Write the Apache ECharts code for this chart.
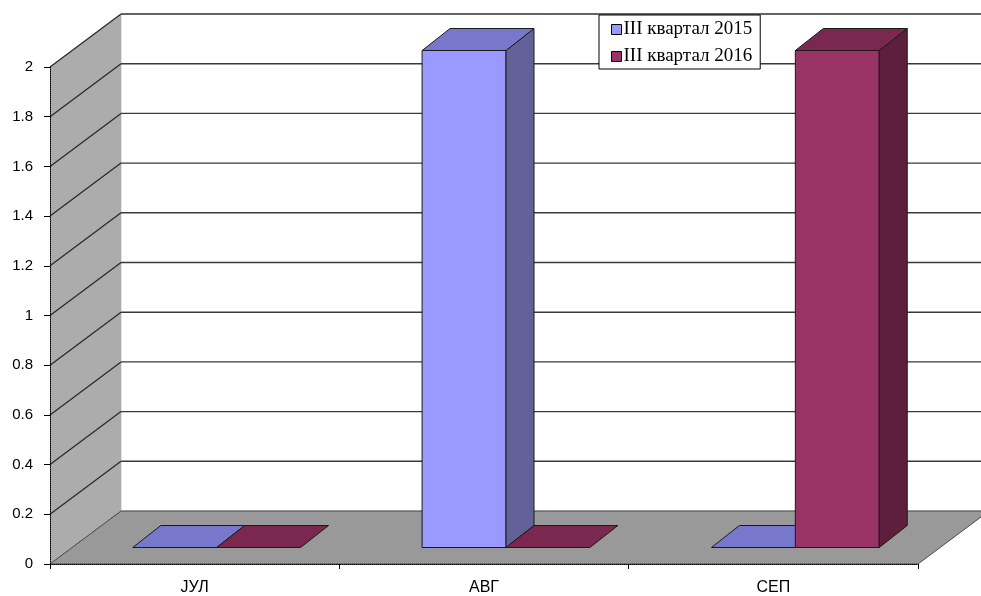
<!DOCTYPE html>
<html>
<head>
<meta charset="utf-8">
<script src="https://cdn.jsdelivr.net/npm/echarts@6/dist/echarts.min.js"></script>
<style>
  html, body { margin: 0; padding: 0; background: #fff; }
  #chart { width: 981px; height: 596px; }
</style>
</head>
<body>
<div id="chart"></div>
<script>
// Monthly values, third quarter
const categories = ['ЈУЛ', 'АВГ', 'СЕП'];
const seriesNames = ['III квартал 2015', 'III квартал 2016'];
const q3_2015 = [0, 2, 0];
const q3_2016 = [0, 0, 2];
const yTicks = [0, 0.2, 0.4, 0.6, 0.8, 1, 1.2, 1.4, 1.6, 1.8, 2];

// Oblique projection: how far the back of the plot box is shifted (px)
const DEPTH = [71, -53];
// Bars: front face inset into the box, and the bar's own depth (px)
const BAR_FRONT = [22, -16.5];
const BAR_DEPTH = [28, -22];
const BAR_FRAC = 0.29;

const palette = {
  s2015: { front: '#9999ff', top: '#7777cc', side: '#626299' },
  s2016: { front: '#993366', top: '#7a2850', side: '#5e1f3e' }
};

const chart = echarts.init(document.getElementById('chart'), null, { renderer: 'canvas' });

// Walls, floor and gridlines of the 3D box
function boxSeries() {
  return {
    type: 'custom',
    name: 'box',
    silent: true,
    data: [[0, 0]],
    encode: { x: 0, y: 1 },
    renderItem(params, api) {
      const cs = params.coordSys;
      const x0 = cs.x, x1 = cs.x + cs.width;
      const [dx, dy] = DEPTH;
      const yMin = yTicks[0], yMax = yTicks[yTicks.length - 1];
      const y0 = api.coord([0, yMin])[1];
      const y2 = api.coord([0, yMax])[1];
      const children = [];
      // back wall
      children.push({
        type: 'polygon',
        shape: { points: [[x0 + dx, y0 + dy], [x1 + dx, y0 + dy], [x1 + dx, y2 + dy], [x0 + dx, y2 + dy]] },
        style: { fill: '#ffffff', stroke: '#c8c8c8', lineWidth: 1 }
      });
      // left wall
      children.push({
        type: 'polygon',
        shape: { points: [[x0, y0], [x0, y2], [x0 + dx, y2 + dy], [x0 + dx, y0 + dy]] },
        style: { fill: '#acacac', stroke: null }
      });
      // floor
      children.push({
        type: 'polygon',
        shape: { points: [[x0, y0], [x1, y0], [x1 + dx, y0 + dy], [x0 + dx, y0 + dy]] },
        style: { fill: '#999999', stroke: '#4a4a4a', lineWidth: 1 }
      });
      // gridlines: diagonal on the left wall, horizontal on the back wall
      yTicks.forEach(function (v) {
        const y = api.coord([0, v])[1];
        const dashed = v === yMin;
        children.push({
          type: 'line',
          shape: { x1: x0, y1: y, x2: x0 + dx, y2: y + dy },
          style: { stroke: dashed ? '#5a5a5a' : '#2a2a2a', lineWidth: dashed ? 1 : 1.3, lineDash: dashed ? [2, 2] : null }
        });
        if (v !== yMin) {
          children.push({
            type: 'line',
            shape: { x1: x0 + dx, y1: y + dy, x2: x1 + dx, y2: y + dy },
            style: { stroke: '#3a3a3a', lineWidth: 1.4 }
          });
        }
      });
      return { type: 'group', children: children };
    }
  };
}

// One 3D column series; side = -1 puts the bar left of the category centre
function barSeries(name, values, side, colors) {
  return {
    type: 'custom',
    name: name,
    itemStyle: { color: colors.front },
    data: values.map(function (v, i) { return [i, v]; }),
    encode: { x: 0, y: 1 },
    renderItem(params, api) {
      const i = api.value(0), v = api.value(1);
      const base = api.coord([i, 0]);
      const top = api.coord([i, v]);
      const band = api.size([1, 0])[0];
      const w = band * BAR_FRAC;
      const xl = base[0] + (side < 0 ? -w : 0) + BAR_FRONT[0];
      const xr = xl + w;
      const yb = base[1] + BAR_FRONT[1];
      const yt = top[1] + BAR_FRONT[1];
      const dx = BAR_DEPTH[0], dy = BAR_DEPTH[1];
      const edge = { stroke: '#1a1a1a', lineWidth: 1, lineJoin: 'round' };
      const children = [];
      if (yb - yt > 0.5) {
        children.push({
          type: 'polygon',
          shape: { points: [[xl, yb], [xr, yb], [xr, yt], [xl, yt]] },
          style: Object.assign({ fill: colors.front }, edge)
        });
        children.push({
          type: 'polygon',
          shape: { points: [[xr, yb], [xr + dx, yb + dy], [xr + dx, yt + dy], [xr, yt]] },
          style: Object.assign({ fill: colors.side }, edge)
        });
      }
      children.push({
        type: 'polygon',
        shape: { points: [[xl, yt], [xr, yt], [xr + dx, yt + dy], [xl + dx, yt + dy]] },
        style: Object.assign({ fill: colors.top }, edge)
      });
      return { type: 'group', children: children };
    }
  };
}

const option = {
  backgroundColor: '#ffffff',
  animation: false,
  grid: { left: 50, right: 63, top: 67, bottom: 31.5 },
  legend: {
    orient: 'vertical',
    left: 599,
    top: 15,
    data: seriesNames,
    icon: 'rect',
    itemWidth: 10,
    itemHeight: 10,
    itemGap: 8,
    padding: [5, 8, 3, 12],
    backgroundColor: '#ffffff',
    borderColor: '#000000',
    borderWidth: 1,
    borderRadius: 0,
    itemStyle: { borderColor: '#000000', borderWidth: 1 },
    textStyle: {
      fontFamily: '"Liberation Serif", "Times New Roman", serif',
      fontSize: 19,
      color: '#000000',
      padding: [0, 0, 0, -3]
    }
  },
  xAxis: {
    type: 'category',
    data: categories,
    z: 10,
    axisLine: { show: true, lineStyle: { color: '#000000', width: 1, type: [1, 1] } },
    axisTick: { show: true, length: 5, lineStyle: { color: '#000000' } },
    axisLabel: {
      color: '#000000',
      fontFamily: '"Liberation Sans", Arial, sans-serif',
      fontSize: 16,
      margin: 16
    },
    splitLine: { show: false }
  },
  yAxis: {
    type: 'value',
    min: yTicks[0],
    max: yTicks[yTicks.length - 1],
    interval: yTicks[1] - yTicks[0],
    z: 10,
    axisLine: { show: true, lineStyle: { color: '#000000', width: 1, type: [1, 1] } },
    axisTick: { show: true, length: 6, lineStyle: { color: '#000000' } },
    axisLabel: {
      color: '#000000',
      fontFamily: '"Liberation Sans", Arial, sans-serif',
      fontSize: 15,
      margin: 17,
      formatter: function (v) { return String(+v.toFixed(1)); }
    },
    splitLine: { show: false }
  },
  series: [
    boxSeries(),
    barSeries(seriesNames[0], q3_2015, -1, palette.s2015),
    barSeries(seriesNames[1], q3_2016, 1, palette.s2016)
  ]
};

chart.setOption(option);
</script>
</body>
</html>
